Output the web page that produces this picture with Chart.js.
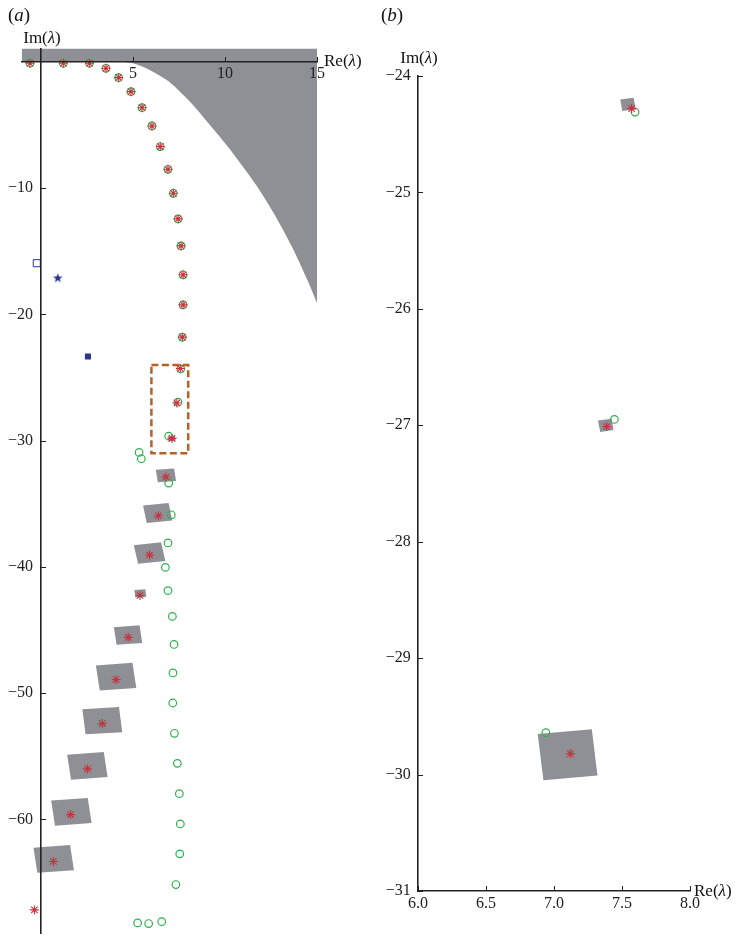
<!DOCTYPE html>
<html>
<head>
<meta charset="utf-8">
<script src="https://cdn.jsdelivr.net/npm/chart.js@4.4.1/dist/chart.umd.min.js"></script>
<style>
  body { margin: 0; background: #fff; overflow: hidden; }
  #wrap { position: relative; width: 736px; height: 935px; overflow: hidden; }
  #ca { position: absolute; left: 0; top: 0; }
  #cb { position: absolute; left: 370px; top: 0; }
</style>
</head>
<body>
<div id="wrap">
  <canvas id="ca" width="370" height="945"></canvas>
  <canvas id="cb" width="366" height="935"></canvas>
</div>
<script>
// green circles
var circleRe = [-0.6, 1.21, 2.63, 3.53, 4.22, 4.89, 5.49, 6.03, 6.48, 6.9, 7.19, 7.45, 7.61, 7.72, 7.72, 7.68, 7.596, 7.444, 6.94,
                5.33, 5.45, 6.94, 7.08, 6.9, 6.76, 6.9, 7.14, 7.23, 7.17, 7.16, 7.25, 7.41, 7.52, 7.57, 7.54, 7.33, 5.25, 5.85, 6.56];
var circleIm = [-0.1, -0.1, -0.1, -0.5, -1.24, -2.35, -3.62, -5.07, -6.7, -8.5, -10.4, -12.43, -14.57, -16.86, -19.24, -21.8, -24.31, -26.95, -29.64,
                -30.93, -31.43, -33.36, -35.87, -38.1, -40.04, -41.88, -43.92, -46.14, -48.4, -50.78, -53.18, -55.56, -57.96, -60.36, -62.73, -65.16, -68.2, -68.25, -68.1];
// red asterisks
var starRe = [-0.6, 1.21, 2.63, 3.53, 4.22, 4.89, 5.49, 6.03, 6.48, 6.9, 7.19, 7.45, 7.61, 7.72, 7.72, 7.68, 7.571, 7.387, 7.12,
              6.79, 6.38, 5.9, 5.38, 4.74, 4.08, 3.33, 2.52, 1.61, 0.67, -0.36];
var starIm = [-0.1, -0.1, -0.1, -0.5, -1.24, -2.35, -3.62, -5.07, -6.7, -8.5, -10.4, -12.43, -14.57, -16.86, -19.24, -21.8, -24.28, -27.01, -29.82,
              -32.88, -35.95, -39.06, -42.26, -45.58, -48.93, -52.41, -56.0, -59.62, -63.34, -67.17];
// gray squares: centre, side, tilt (deg)
var boxRe   = [7.544, 7.381, 7.10, 6.79, 6.34, 5.90, 5.40, 4.73, 4.08, 3.33, 2.52, 1.65, 0.69];
var boxIm   = [-24.244, -27.00, -29.83, -32.75, -35.73, -38.90, -42.10, -45.40, -48.70, -52.18, -55.76, -59.40, -63.13];
var boxSide = [0.10, 0.10, 0.40, 1.0, 1.4, 1.5, 0.6, 1.4, 2.0, 2.0, 2.0, 2.0, 2.0];
var boxTilt = [9, 9, 6, 6, 8, 9, 6, 6, 6, 5, 6, 6, 6];
// gray strip above the real axis
var stripRe = [-1.05, -1.05, 15, 15, -1.05];
var stripIm = [0, 1.06, 1.06, 0, 0];
// gray continuum below the axis: edge from (15,-19.1) up to where it meets the axis
var edgeRe = [15, 14.47, 13.63, 12.65, 11.69, 10.5, 9.78, 9.03, 8.26, 7.36, 6.83, 5.9, 5.0, 4.5, 15, 15];
var edgeIm = [-19.1, -17.26, -14.62, -11.98, -9.74, -7.36, -6.04, -4.73, -3.4, -2.08, -1.43, -0.63, -0.1, 0, 0, -19.1];
// blue markers
var blueOpenRe = [-0.23], blueOpenIm = [-15.94];
var blueStarRe = [0.91],  blueStarIm = [-17.13];
var blueFillRe = [2.55],  blueFillIm = [-23.33];
// zoom window of panel (b)
var zoomRe = [6, 8, 8, 6, 6];
var zoomIm = [-24, -24, -31, -31, -24];

var GREEN = '#2fb04f', RED = '#c9313d', BLUE = '#2b3590', GRAY = '#8f9096', BROWN = '#b5602a';
var SERIF = "'Liberation Serif', 'Times New Roman', serif";

Chart.defaults.font.family = SERIF;
Chart.defaults.font.size = 16;
Chart.defaults.color = '#222';

function pts(re, im) {
  return re.map(function (v, i) { return {x: v, y: im[i]}; });
}

function boxCorners(i) {
  var h = boxSide[i] / 2, a = boxTilt[i] * Math.PI / 180;
  var c = Math.cos(a), s = Math.sin(a);
  return [[-h, h], [h, h], [h, -h], [-h, -h], [-h, h]].map(function (p) {
    return {x: boxRe[i] + p[0] * c - p[1] * s, y: boxIm[i] + p[0] * s + p[1] * c};
  });
}

function starSprite(r, color) {
  var c = document.createElement('canvas');
  c.width = c.height = 2 * r + 2;
  var g = c.getContext('2d');
  g.fillStyle = color;
  g.beginPath();
  for (var k = 0; k < 10; k++) {
    var rr = k % 2 ? r * 0.42 : r;
    var a = -Math.PI / 2 + k * Math.PI / 5;
    g.lineTo(r + 1 + rr * Math.cos(a), r + 1 + rr * Math.sin(a));
  }
  g.closePath();
  g.fill();
  return c;
}

function isMajor(v, step) {
  return Math.abs(v / step - Math.round(v / step)) < 1e-6;
}

function makeDatasets(withZoom) {
  var ds = [];
  ds.push({data: pts(starRe, starIm), pointStyle: 'star', pointRadius: 4.5, borderColor: RED, borderWidth: 1.1, order: 1});
  ds.push({data: pts(circleRe, circleIm), pointStyle: 'circle', pointRadius: 3.8, borderColor: GREEN,
           backgroundColor: 'rgba(0,0,0,0)', borderWidth: 1.2, order: 2});
  ds.push({data: pts(blueOpenRe, blueOpenIm), pointStyle: 'rect', pointRadius: 5, borderColor: BLUE,
           backgroundColor: 'rgba(0,0,0,0)', borderWidth: 1, order: 3});
  ds.push({data: pts(blueStarRe, blueStarIm), pointStyle: starSprite(5, BLUE), order: 3});
  ds.push({data: pts(blueFillRe, blueFillIm), pointStyle: 'rect', pointRadius: 4.3, borderColor: BLUE,
           backgroundColor: BLUE, borderWidth: 0, order: 3});
  if (withZoom) {
    ds.push({data: pts(zoomRe, zoomIm), showLine: true, pointRadius: 0, borderColor: BROWN, borderWidth: 2.5,
             borderDash: [7, 3.5], fill: false, order: 4});
  }
  for (var i = 0; i < boxRe.length; i++) {
    ds.push({data: boxCorners(i), showLine: true, pointRadius: 0, borderWidth: 0, borderColor: GRAY,
             backgroundColor: GRAY, fill: 'shape', order: 5});
  }
  ds.push({data: pts(stripRe, stripIm), showLine: true, pointRadius: 0, borderWidth: 0, borderColor: GRAY,
           backgroundColor: GRAY, fill: 'shape', order: 6});
  ds.push({data: pts(edgeRe, edgeIm), showLine: true, pointRadius: 0, borderWidth: 0, borderColor: GRAY,
           backgroundColor: GRAY, fill: 'shape', tension: 0.3, order: 6});
  return ds;
}

// ticks (inward, major/minor) and axis captions
var axisDeco = {
  id: 'axisDeco',
  afterDraw: function (chart, args, opts) {
    var ctx = chart.ctx, xs = chart.scales.x, ys = chart.scales.y;
    var x0 = xs.getPixelForValue(opts.yAxisAt);
    var y0 = ys.getPixelForValue(opts.xAxisAt);
    ctx.save();
    ctx.strokeStyle = '#222';
    ctx.lineWidth = 1;
    ctx.beginPath();
    xs.ticks.forEach(function (t) {
      var len = isMajor(t.value, opts.xMajor) ? 5 : 3;
      var px = Math.round(xs.getPixelForValue(t.value)) + 0.5;
      ctx.moveTo(px, y0);
      ctx.lineTo(px, y0 - len);
    });
    ys.ticks.forEach(function (t) {
      var len = isMajor(t.value, opts.yMajor) ? 5 : 3;
      var py = Math.round(ys.getPixelForValue(t.value)) + 0.5;
      ctx.moveTo(x0, py);
      ctx.lineTo(x0 + len, py);
    });
    ctx.stroke();

    ctx.fillStyle = '#111';
    ctx.textBaseline = 'alphabetic';
    opts.captions.forEach(function (cap) {
      var w = 0;
      cap.parts.forEach(function (p) {
        ctx.font = (p[1] ? 'italic ' : '') + cap.size + 'px ' + SERIF;
        w += ctx.measureText(p[0]).width;
      });
      var cx = cap.align === 'center' ? cap.x - w / 2 : cap.x;
      cap.parts.forEach(function (p) {
        ctx.font = (p[1] ? 'italic ' : '') + cap.size + 'px ' + SERIF;
        ctx.fillText(p[0], cx, cap.y);
        cx += ctx.measureText(p[0]).width;
      });
    });
    ctx.restore();
  }
};

function lam(txt) { return [[txt + '(', false], ['\u03bb', true], [')', false]]; }
function noPad(scale) { scale.paddingTop = 0; scale.paddingBottom = 0; scale.paddingLeft = 0; scale.paddingRight = 0; }

// Panel (a)
new Chart(document.getElementById('ca'), {
  type: 'scatter',
  data: {datasets: makeDatasets(true)},
  options: {
    responsive: false,
    animation: false,
    events: [],
    layout: {padding: {left: 21.7, right: 53, top: 48.6, bottom: 12}},
    plugins: {
      legend: {display: false},
      tooltip: {enabled: false},
      axisDeco: {
        xAxisAt: 0, yAxisAt: 0, xMajor: 5, yMajor: 10,
        captions: [
          {parts: [['(', false], ['a', true], [')', false]], x: 8, y: 21, size: 19, align: 'left'},
          {parts: lam('Im'), x: 42, y: 43, size: 17, align: 'center'},
          {parts: lam('Re'), x: 324, y: 66, size: 17, align: 'left'}
        ]
      }
    },
    scales: {
      x: {
        type: 'linear', min: -1.05, max: 15, position: {y: 0}, afterFit: noPad,
        grid: {drawOnChartArea: false, drawTicks: false},
        border: {color: '#222', width: 1.6, z: 1},
        ticks: {
          z: 1, stepSize: 1, includeBounds: false, autoSkip: false, maxRotation: 0, padding: 2,
          callback: function (v) { return (v > 0 && isMajor(v, 5)) ? String(v) : null; }
        }
      },
      y: {
        type: 'linear', min: -69, max: 1.06, position: {x: 0}, afterFit: noPad,
        grid: {drawOnChartArea: false, drawTicks: false},
        border: {color: '#222', width: 1.6, z: 1},
        ticks: {
          z: 1, stepSize: 2, includeBounds: false, autoSkip: false, padding: 0,
          callback: function (v) { return (v < 0 && isMajor(v, 10)) ? '\u2212' + Math.abs(Math.round(v)) + '  ' : null; }
        }
      }
    }
  },
  plugins: [axisDeco]
});

// Panel (b): zoom on the dashed window
new Chart(document.getElementById('cb'), {
  type: 'scatter',
  data: {datasets: makeDatasets(false)},
  options: {
    responsive: false,
    animation: false,
    events: [],
    layout: {padding: {left: 48, right: 46, top: 76, bottom: 44}},
    plugins: {
      legend: {display: false},
      tooltip: {enabled: false},
      axisDeco: {
        xAxisAt: -31, yAxisAt: 6, xMajor: 0.5, yMajor: 1,
        captions: [
          {parts: [['(', false], ['b', true], [')', false]], x: 11, y: 21, size: 19, align: 'left'},
          {parts: lam('Im'), x: 49, y: 63, size: 17, align: 'center'},
          {parts: lam('Re'), x: 324, y: 896, size: 17, align: 'left'}
        ]
      }
    },
    scales: {
      x: {
        type: 'linear', min: 6, max: 8, position: {y: -31}, afterFit: noPad,
        grid: {drawOnChartArea: false, drawTicks: false},
        border: {color: '#222', width: 1.6, z: 1},
        ticks: {
          z: 1, stepSize: 0.1, includeBounds: false, autoSkip: false, maxRotation: 0, padding: 3,
          callback: function (v) { return isMajor(v, 0.5) ? v.toFixed(1) : null; }
        }
      },
      y: {
        type: 'linear', min: -31, max: -24, position: {x: 6}, afterFit: noPad,
        grid: {drawOnChartArea: false, drawTicks: false},
        border: {color: '#222', width: 1.6, z: 1},
        ticks: {
          z: 1, stepSize: 0.2, includeBounds: false, autoSkip: false, padding: 0,
          callback: function (v) { return isMajor(v, 1) ? '\u2212' + Math.abs(Math.round(v)) + ' \u2009' : null; }
        }
      }
    }
  },
  plugins: [axisDeco]
});
</script>
</body>
</html>
